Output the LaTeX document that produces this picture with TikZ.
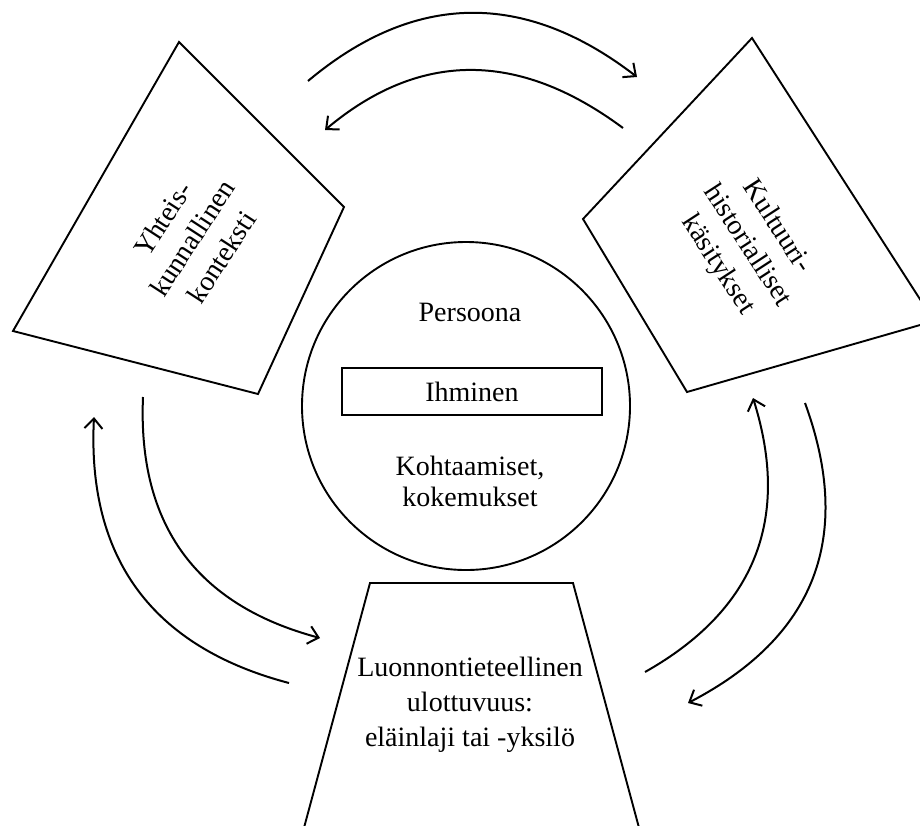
\documentclass[tikz,border=0pt]{standalone}
\usepackage{fontspec}
\setmainfont{Liberation Serif}
\usetikzlibrary{arrows.meta}

\begin{document}
\begin{tikzpicture}[x=0.5pt,y=-0.5pt,
  part/.style={draw,line width=0.95pt},
  txt/.style={font=\fontsize{14}{17.5}\selectfont,align=center,inner sep=0pt},
  loop/.style={->,line width=1pt},
  >={Straight Barb[length=5pt,width=9pt]}]
  \useasboundingbox (0,0) rectangle (920,825);
  \clip (0,0) rectangle (920,825);

  % centre
  \node[circle,part,minimum size=164pt,inner sep=0pt] (persoona) at (466,406) {};
  \node[txt] (pers) at (470,312) {Persoona};
  \node[part,line width=0.8pt,minimum width=130pt,minimum height=23.5pt,inner sep=0pt,font=\fontsize{14}{17}\selectfont] (ihminen) at (472,391.5) {Ihminen};
  \node[txt,font=\fontsize{14}{15.5}\selectfont] (kohtaamiset) at (470,481) {Kohtaamiset,\\kokemukset};

  % left
  \coordinate (l1) at (179,42);
  \coordinate (l2) at (344,207);
  \coordinate (l3) at (258,394);
  \coordinate (l4) at (13,331);
  \draw[part] (l1) -- (l2) -- (l3) -- (l4) -- cycle;
  \node[txt,rotate=57] (yhteis) at (192,238) {Yhteis-\\kunnallinen\\konteksti};

  % right
  \coordinate (r1) at (752,38);
  \coordinate (r2) at (583,219);
  \coordinate (r3) at (687,392);
  \coordinate (r4) at (934,321);
  \draw[part] (r1) -- (r2) -- (r3) -- (r4) -- cycle;
  \node[txt,rotate=-57] (kultuuri) at (747,246) {Kultuuri-\\historialliset\\käsitykset};

  % bottom
  \coordinate (b1) at (370,583);
  \coordinate (b2) at (573,583);
  \coordinate (b3) at (645,850);
  \coordinate (b4) at (298,850);
  \draw[part] (b1) -- (b2) -- (b3) -- (b4) -- cycle;
  \node[txt] (luonto) at (470,705) {Luonnontieteellinen\\ulottuvuus:\\eläinlaji tai -yksilö};

  % arrows
  \coordinate (t1) at (308,81);
  \coordinate (t2) at (637,77);
  \coordinate (t3) at (623,128);
  \coordinate (t4) at (325,130);
  \draw[loop] (t1) .. controls (414,-8) and (524,-10) .. (t2);
  \draw[loop] (t3) .. controls (518,50) and (419,51) .. (t4);

  \coordinate (v1) at (289,683);
  \coordinate (v2) at (94,417);
  \coordinate (v3) at (143,397);
  \coordinate (v4) at (320,638);
  \draw[loop] (v1) .. controls (152,647) and (87,558) .. (v2);
  \draw[loop] (v3) .. controls (137.5,525) and (196.5,605) .. (v4);

  \coordinate (o1) at (645,672);
  \coordinate (o2) at (753,398);
  \coordinate (o3) at (805,403);
  \coordinate (o4) at (688,703);
  \draw[loop] (o1) .. controls (755,610) and (791,519) .. (o2);
  \draw[loop] (o3) .. controls (854,537) and (815,637) .. (o4);
\end{tikzpicture}
\end{document}
